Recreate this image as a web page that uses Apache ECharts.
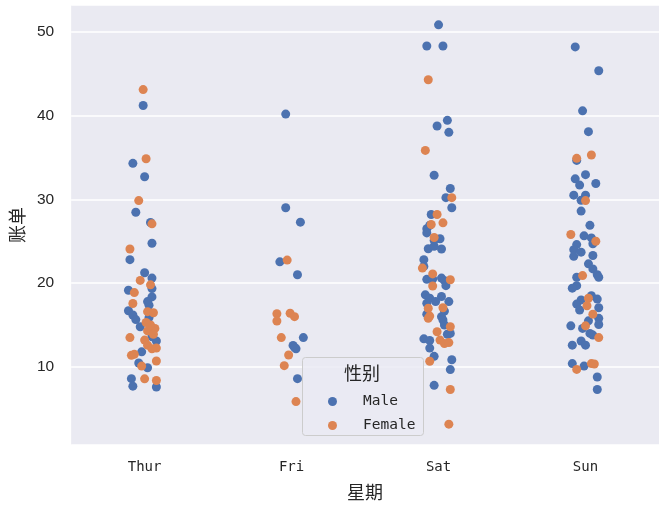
<!DOCTYPE html>
<html>
<head>
<meta charset="utf-8">
<script src="https://cdn.jsdelivr.net/npm/echarts@6/dist/echarts.min.js"></script>
<style>html,body{margin:0;padding:0;background:#fff;}#c{width:664px;height:506px;}</style>
</head>
<body>
<div id="c"></div>
<script>
var days = ['Thur', 'Fri', 'Sat', 'Sun'];
var sexes = ['Male', 'Female'];
var yTicks = [10, 20, 30, 40, 50];

// [jitter offset (category units), total bill]
var maleThur = [[-0.01,41.2],[-0.08,34.3],[0.00,32.7],[-0.06,28.46],[0.04,27.24],[0.05,24.76],[-0.10,22.8],[0.00,21.24],[0.05,20.6],[-0.11,19.15],[0.05,19.35],[0.05,18.36],[0.03,17.37],[-0.11,16.7],[-0.08,16.2],[-0.06,15.65],[0.03,15.9],[0.05,13.6],[0.08,13.1],[-0.02,11.8],[-0.04,10.47],[0.02,9.9],[-0.09,8.6],[-0.08,7.7],[0.08,7.6],[0.02,17.8],[-0.03,14.8]];
var femaleThur = [[-0.01,43.1],[0.01,34.85],[-0.04,29.85],[0.05,27.08],[-0.10,24.08],[-0.03,20.33],[0.04,19.8],[-0.07,18.87],[-0.08,17.57],[0.02,16.6],[0.06,16.47],[0.02,14.3],[0.07,14.6],[-0.10,13.5],[0.00,13.2],[0.02,12.6],[0.08,12.25],[0.05,12.17],[-0.09,11.38],[-0.07,11.5],[0.08,10.7],[-0.02,10.1],[0.00,8.58],[0.08,8.38],[0.04,15.0],[0.01,15.3],[0.06,13.9]];
var maleFri = [[-0.04,40.18],[-0.04,29.0],[0.06,27.28],[-0.08,22.54],[0.04,21.0],[0.08,13.5],[0.01,12.57],[0.03,12.17],[0.02,12.33],[0.04,8.6]];
var femaleFri = [[-0.03,22.75],[-0.10,16.35],[-0.01,16.4],[0.02,16.0],[-0.10,15.48],[-0.07,13.5],[-0.02,11.42],[-0.05,10.15],[0.03,5.86]];
var maleSat = [[0.00,50.83],[-0.08,48.3],[0.03,48.3],[0.06,39.43],[-0.01,38.76],[0.07,38.0],[-0.03,32.88],[0.08,31.3],[0.05,30.2],[0.09,29.0],[-0.05,28.2],[-0.06,26.9],[-0.08,26.5],[-0.08,26.0],[0.01,25.3],[-0.03,25.1],[-0.07,24.1],[-0.03,24.4],[0.02,24.08],[-0.10,22.8],[-0.10,22.0],[-0.08,20.45],[-0.04,20.5],[0.02,20.6],[0.04,20.3],[0.05,19.7],[-0.09,18.6],[-0.06,18.2],[0.02,18.4],[0.07,17.8],[-0.02,17.8],[-0.08,17.6],[0.04,16.66],[-0.08,16.3],[0.02,16.0],[0.03,15.6],[0.04,15.0],[0.08,14.0],[0.06,13.9],[-0.10,13.35],[-0.06,13.15],[-0.06,12.25],[-0.03,11.26],[0.09,10.86],[0.08,9.68],[-0.03,7.8]];
var femaleSat = [[-0.07,44.28],[-0.09,35.84],[0.09,30.2],[-0.01,28.2],[0.03,27.2],[-0.05,27.0],[-0.03,25.45],[-0.11,21.8],[-0.04,21.1],[0.08,20.4],[-0.04,19.66],[-0.07,17.0],[0.03,17.06],[-0.06,16.07],[-0.07,15.8],[0.08,14.8],[-0.01,14.2],[0.01,13.2],[0.04,12.8],[0.07,12.9],[-0.06,10.67],[0.08,7.3],[0.07,3.17]];
var maleSun = [[-0.07,48.2],[0.09,45.35],[-0.02,40.57],[0.02,38.08],[-0.06,34.65],[-0.07,32.45],[0.00,32.95],[-0.04,31.7],[0.07,31.9],[-0.08,30.5],[0.00,30.5],[-0.03,29.9],[-0.03,28.6],[0.03,26.9],[-0.01,25.65],[0.04,25.4],[0.05,24.7],[-0.06,24.6],[-0.08,24.0],[-0.03,23.7],[-0.08,23.2],[0.05,23.3],[0.02,22.3],[0.05,21.7],[0.08,21.0],[-0.06,20.7],[0.09,20.7],[-0.06,19.7],[-0.09,19.4],[0.04,18.5],[0.08,18.1],[-0.03,18.0],[-0.06,17.5],[0.09,17.06],[-0.04,16.8],[0.09,15.8],[0.02,15.5],[-0.10,14.9],[0.09,15.07],[-0.02,14.6],[0.03,14.0],[0.05,13.8],[-0.03,13.1],[-0.09,12.6],[0.00,12.6],[-0.09,10.4],[-0.01,10.1],[0.08,8.8],[0.08,7.3]];
var femaleSun = [[-0.06,34.9],[0.04,35.3],[0.00,29.85],[-0.10,25.8],[0.07,25.0],[-0.02,20.9],[0.02,18.2],[0.01,17.3],[0.05,16.3],[0.00,14.9],[0.09,13.5],[-0.06,9.7],[0.04,10.4],[0.06,10.35]];

var maleByDay = [maleThur, maleFri, maleSat, maleSun];
var femaleByDay = [femaleThur, femaleFri, femaleSat, femaleSun];

function build(byDay) {
  var out = [];
  byDay.forEach(function (arr, d) {
    arr.forEach(function (p) { out.push([d + p[0], p[1]]); });
  });
  return out;
}

var monoFont = '"DejaVu Sans Mono", "Liberation Mono", monospace';
var cjkFont = '"Noto Sans CJK SC", sans-serif';

var chart = echarts.init(document.getElementById('c'), null, {renderer: 'canvas'});
chart.setOption({
  animation: false,
  backgroundColor: '#ffffff',
  grid: {left: 67, right: 5, top: 5, bottom: 59, show: true, backgroundColor: '#EAEAF2', borderWidth: 0, containLabel: false},
  xAxis: [{
    type: 'category', data: days, boundaryGap: true,
    axisLine: {show: false}, axisTick: {show: false}, splitLine: {show: false},
    axisLabel: {color: '#262626', fontFamily: monoFont, fontSize: 14, margin: 15},
    name: '星期', nameLocation: 'middle', nameGap: 38,
    nameTextStyle: {color: '#262626', fontFamily: cjkFont, fontSize: 18}
  }, {
    type: 'value', min: -0.5, max: 3.5, show: false
  }],
  yAxis: {
    type: 'value', min: 0.68, max: 53.2, splitNumber: 5,
    axisLine: {show: false}, axisTick: {show: false},
    splitLine: {show: true, lineStyle: {color: '#ffffff', width: 1.5}},
    axisLabel: {color: '#262626', fontFamily: '"Liberation Sans", Arial, sans-serif', fontSize: 15.5, margin: 17,
      showMinLabel: false, showMaxLabel: false,
      formatter: function (v) { return yTicks.indexOf(v) >= 0 ? String(v) : ''; }},
    name: '账单', nameLocation: 'middle', nameGap: 43,
    nameTextStyle: {color: '#262626', fontFamily: cjkFont, fontSize: 18}
  },
  legend: {
    orient: 'vertical', left: 323, top: 389, itemGap: 9, z: 30,
    itemWidth: 9, itemHeight: 9, icon: 'circle',
    data: sexes,
    textStyle: {color: '#262626', fontFamily: monoFont, fontSize: 14.5, padding: [0, 0, 0, 21]}
  },
  graphic: [
    {type: 'rect', z: 20, shape: {x: 302.5, y: 357.5, width: 121, height: 78, r: 3},
      style: {fill: 'rgba(234,234,242,0.8)', stroke: '#cccccc', lineWidth: 1}},
    {type: 'text', z: 21, x: 362, y: 373,
      style: {text: '性别', fontFamily: cjkFont, fontSize: 18, fill: '#262626', align: 'center', verticalAlign: 'middle'}}
  ],
  series: [{
    name: sexes[0], type: 'scatter', xAxisIndex: 1, symbolSize: 9,
    itemStyle: {color: '#4C72B0', opacity: 1},
    data: build(maleByDay)
  }, {
    name: sexes[1], type: 'scatter', xAxisIndex: 1, symbolSize: 9,
    itemStyle: {color: '#DD8452', opacity: 1},
    data: build(femaleByDay)
  }]
});
</script>
</body>
</html>
